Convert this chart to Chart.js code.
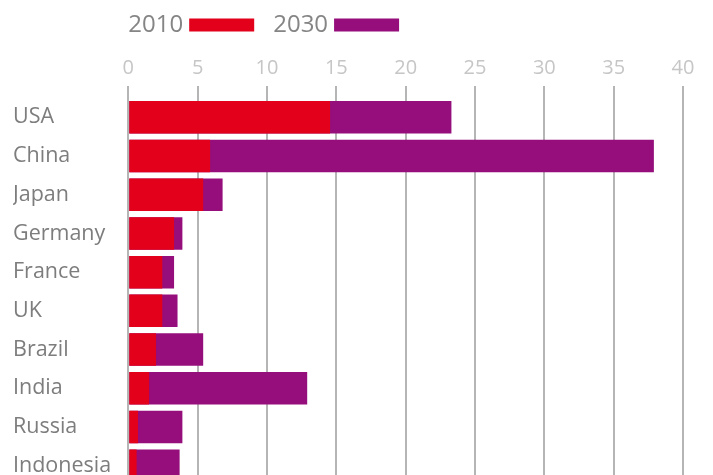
<!DOCTYPE html>
<html>
<head>
<meta charset="utf-8">
<script src="https://cdn.jsdelivr.net/npm/chart.js@4/dist/chart.umd.min.js"></script>
<style>
  html, body { margin: 0; padding: 0; background: #fff; overflow: hidden; width: 713px; height: 475px; }
  #wrap { width: 713px; height: 475px; overflow: hidden; position: relative; }
  canvas { display: block; position: absolute; left: 0; top: 0; }
</style>
</head>
<body>
<div id="wrap"><canvas id="chart" width="713" height="490"></canvas></div>
<script>
const countries = ["USA", "China", "Japan", "Germany", "France", "UK", "Brazil", "India", "Russia", "Indonesia"];
const values2010 = [14.55, 5.9, 5.4, 3.3, 2.45, 2.45, 2.0, 1.5, 0.7, 0.6];
const values2030 = [23.3, 37.9, 6.8, 3.9, 3.3, 3.55, 5.4, 12.9, 3.9, 3.7];
const xTicks = [0, 5, 10, 15, 20, 25, 30, 35, 40];

const RED = "#e2001a";
const PURPLE = "#950e7b";

// legend: label text first, colour bar after it, starting at the plot's left edge
const topLegend = {
  id: "topLegend",
  afterDraw(chart) {
    const ctx = chart.ctx;
    let x = chart.chartArea.left;
    const y = 25;
    ctx.save();
    ctx.font = "24px 'Open Sans'";
    ctx.textBaseline = "middle";
    ctx.textAlign = "left";
    chart.data.datasets.forEach((ds) => {
      ctx.fillStyle = "#858585";
      ctx.fillText(ds.label, x, y);
      x += ctx.measureText(ds.label).width + 6;
      ctx.fillStyle = ds.backgroundColor;
      ctx.fillRect(x, y - 6.5, 65, 13);
      x += 65 + 19;
    });
    ctx.restore();
  },
};

new Chart(document.getElementById("chart"), {
  type: "bar",
  data: {
    labels: countries,
    datasets: [
      { label: "2010", data: values2010, backgroundColor: RED },
      { label: "2030", data: values2030, backgroundColor: PURPLE },
    ],
  },
  options: {
    indexAxis: "y",
    responsive: false,
    animation: false,
    grouped: false,
    categoryPercentage: 1,
    barPercentage: 0.84,
    layout: { padding: { top: 50, left: 13, right: 30, bottom: 5 } },
    plugins: { legend: { display: false }, tooltip: { enabled: false } },
    scales: {
      x: {
        position: "top",
        min: 0,
        max: 40,
        afterBuildTicks: (axis) => { axis.ticks = xTicks.map((v) => ({ value: v })); },
        grid: { color: "#b5b5b5", lineWidth: 2, tickLength: 12 },
        border: { display: false },
        ticks: { color: "#c6c6c6", padding: 6, font: { family: "'Open Sans'", size: 20 } },
      },
      y: {
        grid: { display: false },
        border: { display: false },
        afterFit: (axis) => {
          axis.width = 115.3;
          // labels sit inside the bar slots, no extra room needed above/below
          axis.paddingTop = 0;
          axis.paddingBottom = 0;
        },
        ticks: { crossAlign: "far", color: "#7d7d7d", font: { family: "'Open Sans'", size: 21.5 } },
      },
    },
  },
  plugins: [topLegend],
});
</script>
</body>
</html>
